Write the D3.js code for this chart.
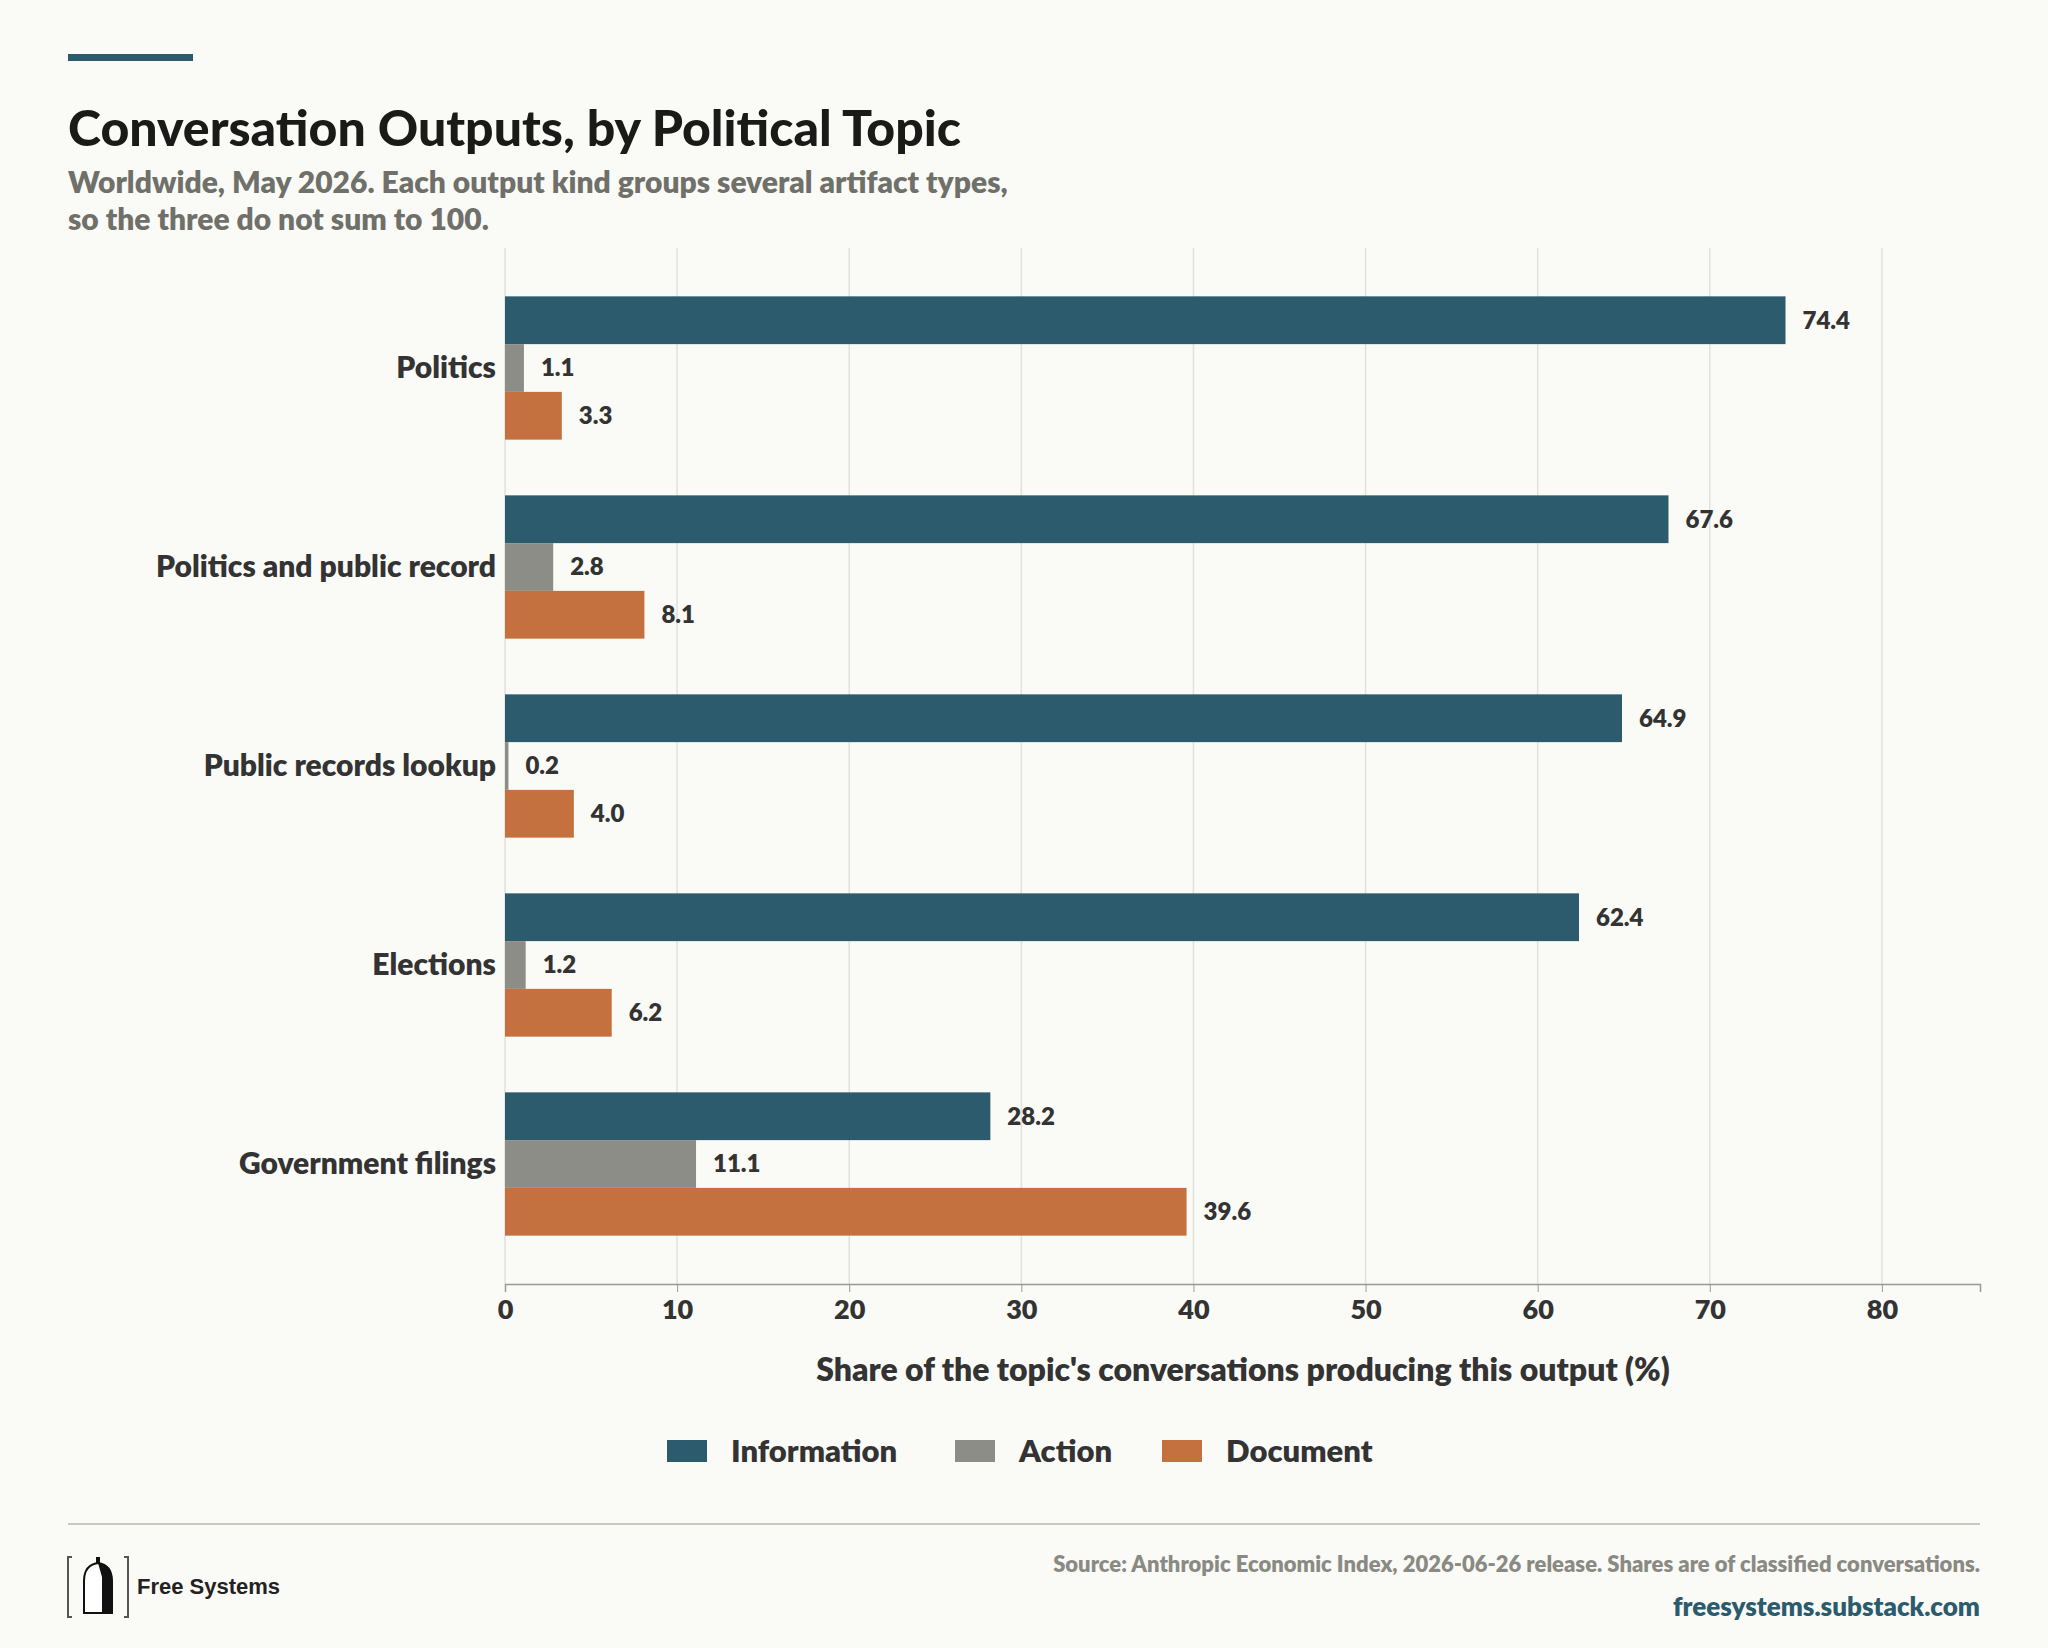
<html>
<head>
    <script src="https://d3js.org/d3.v7.min.js"></script>
    <style>
        body { margin: 0; background: #fafaf6; }
        text { font-family: Lato, "Open Sans", sans-serif; }
    </style>
</head>
<body>
    <svg id="chart"></svg>
    <script>
        var topics = ["Politics", "Politics and public record", "Public records lookup", "Elections", "Government filings"];
        var kinds = ["Information", "Action", "Document"];
        var information = [74.4, 67.6, 64.9, 62.4, 28.2];
        var action = [1.1, 2.8, 0.2, 1.2, 11.1];
        var documentShare = [3.3, 8.1, 4.0, 6.2, 39.6];
        var xTicks = [0, 10, 20, 30, 40, 50, 60, 70, 80];
        var colors = ["#2b5b6d", "#8d8d87", "#c4703f"];

        var W = 2048, H = 1648;
        var plotLeft = 505, plotRight = 1980, plotTop = 248, plotBottom = 1284;
        var svg = d3.select("#chart").attr("width", W).attr("height", H);
        svg.append("rect").attr("width", W).attr("height", H).attr("fill", "#fafaf6");

        var x = d3.scaleLinear().domain([0, 85.7]).range([plotLeft, plotRight]);
        var y = d3.scaleBand().domain(topics).range([plotTop, plotBottom]).paddingInner(0.28).paddingOuter(0.243);
        var sub = d3.scaleBand().domain(kinds).range([0, y.bandwidth()]);

        // gridlines
        svg.append("g").selectAll("line").data(xTicks).enter().append("line")
            .attr("x1", d => x(d)).attr("x2", d => x(d))
            .attr("y1", plotTop).attr("y2", plotBottom)
            .attr("stroke", "#e2e2dc").attr("stroke-width", 1.5);

        var rows = topics.map(function (t, i) {
            return { topic: t, values: [information[i], action[i], documentShare[i]] };
        });
        var g = svg.append("g").selectAll("g").data(rows).enter().append("g")
            .attr("transform", d => "translate(0," + y(d.topic) + ")");
        g.selectAll("rect").data(d => d.values).enter().append("rect")
            .attr("x", x(0)).attr("y", (d, i) => sub(kinds[i]))
            .attr("width", d => x(d) - x(0)).attr("height", sub.bandwidth())
            .attr("fill", (d, i) => colors[i]);
        g.selectAll("text.val").data(d => d.values).enter().append("text")
            .attr("x", d => x(d) + 17).attr("y", (d, i) => sub(kinds[i]) + sub.bandwidth() / 2)
            .attr("dy", "0.35em").attr("font-size", 24).attr("font-weight", 800).attr("fill", "#333")
            .text(d => d.toFixed(1));
        g.append("text").attr("x", 496).attr("y", y.bandwidth() / 2).attr("dy", "0.35em")
            .attr("text-anchor", "end").attr("font-size", 30).attr("font-weight", 800).attr("fill", "#333")
            .text(d => d.topic);

        // x axis
        var ax = svg.append("g").attr("transform", "translate(0," + plotBottom + ")")
            .call(d3.axisBottom(x).tickValues(xTicks).tickSize(8).tickPadding(8));
        ax.select(".domain").attr("stroke", "#999").attr("stroke-width", 1.5);
        ax.selectAll(".tick line").attr("stroke", "#999");
        ax.selectAll("text").attr("font-size", 27).attr("font-weight", 800).attr("fill", "#333")
            .style("font-family", "Lato, sans-serif");
        svg.append("text").attr("x", 1243).attr("y", 1381).attr("text-anchor", "middle")
            .attr("font-size", 32).attr("font-weight", 800).attr("fill", "#333")
            .text("Share of the topic's conversations producing this output (%)");

        // legend
        var legendX = [667, 955, 1162];
        var lg = svg.append("g").selectAll("g").data(kinds).enter().append("g")
            .attr("transform", (d, i) => "translate(" + legendX[i] + ",1451)");
        lg.append("rect").attr("y", -11).attr("width", 40).attr("height", 22).attr("fill", (d, i) => colors[i]);
        lg.append("text").attr("x", 64).attr("dy", "0.35em").attr("font-size", 31).attr("font-weight", 800)
            .attr("fill", "#333").text(d => d);

        // header
        svg.append("rect").attr("x", 68).attr("y", 54).attr("width", 125).attr("height", 7).attr("fill", "#2b5b6d");
        svg.append("text").attr("x", 68).attr("y", 146).attr("font-size", 50).attr("font-weight", 900)
            .attr("fill", "#1a1a18").text("Conversation Outputs, by Political Topic");
        svg.append("text").attr("x", 68).attr("y", 193).attr("font-size", 30).attr("font-weight", 800)
            .attr("fill", "#70706a").text("Worldwide, May 2026. Each output kind groups several artifact types,");
        svg.append("text").attr("x", 68).attr("y", 230).attr("font-size", 30).attr("font-weight", 800)
            .attr("fill", "#70706a").text("so the three do not sum to 100.");

        // footer
        svg.append("line").attr("x1", 68).attr("x2", 1980).attr("y1", 1524).attr("y2", 1524)
            .attr("stroke", "#c8c8c0").attr("stroke-width", 2);
        svg.append("text").attr("x", 1980).attr("y", 1572).attr("text-anchor", "end").attr("font-size", 22)
            .attr("font-weight", 800).attr("fill", "#8a8a84")
            .text("Source: Anthropic Economic Index, 2026-06-26 release. Shares are of classified conversations.");
        svg.append("text").attr("x", 1980).attr("y", 1616).attr("text-anchor", "end").attr("font-size", 26)
            .attr("font-weight", 800).attr("fill", "#2b5b6d").text("freesystems.substack.com");

        // logo
        var logo = svg.append("g").attr("transform", "translate(68,1557)");
        logo.append("path").attr("d", "M4,0 H0 V60 H4 M56,0 H60 V60 H56").attr("fill", "none")
            .attr("stroke", "#555").attr("stroke-width", 2);
        logo.append("path").attr("d", "M16,56 V24 Q16,8 30,6 Q44,8 44,24 V56 Z").attr("fill", "#fff").attr("stroke", "#111").attr("stroke-width", 2);
        logo.append("path").attr("d", "M30,6 Q44,8 44,24 V56 H34 V20 Z").attr("fill", "#111");
        logo.append("rect").attr("x", 28).attr("y", 0).attr("width", 4).attr("height", 6).attr("fill", "#111");
        svg.append("text").attr("x", 137).attr("y", 1594).attr("font-size", 22).attr("font-weight", 700)
            .attr("fill", "#222").style("font-family", "Liberation Sans, Arial, sans-serif").text("Free Systems");
    </script>
</body>
</html>
